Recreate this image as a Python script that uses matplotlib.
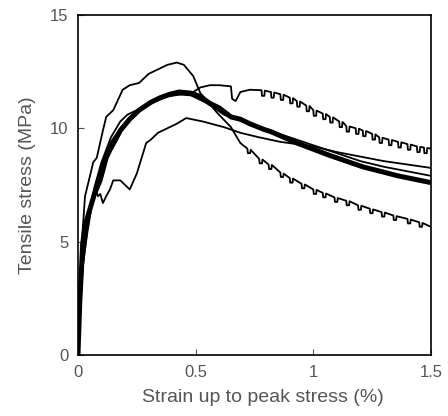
import matplotlib
matplotlib.use("Agg")
import matplotlib.pyplot as plt

plt.rcParams['font.family'] = ['Liberation Sans', 'DejaVu Sans']

# mean curve (thick)
mean_x = [0, 0.004, 0.008, 0.015, 0.02, 0.03, 0.05, 0.07, 0.094, 0.12, 0.136, 0.165, 0.18, 0.22, 0.26,
          0.31, 0.35, 0.39, 0.43, 0.48, 0.52, 0.56, 0.60, 0.65, 0.69, 0.73, 0.79, 0.82, 0.93, 1.07, 1.21, 1.36, 1.5]
mean_y = [0, 1.2, 2.4, 3.8, 4.9, 5.7, 6.4, 7.1, 7.7, 8.7, 9.05, 9.6, 9.9, 10.4, 10.8,
          11.15, 11.35, 11.5, 11.6, 11.55, 11.4, 11.1, 10.9, 10.5, 10.4, 10.2, 9.95, 9.85, 9.35, 8.8, 8.3, 7.9, 7.6]

# specimen with highest peak
s1_x = [0, 0.005, 0.012, 0.02, 0.03, 0.05, 0.065, 0.08, 0.106, 0.12, 0.15, 0.19, 0.22, 0.26, 0.30, 0.34,
        0.38, 0.42, 0.45, 0.49, 0.52, 0.55, 0.59, 0.65, 0.69,
        0.72, 0.722, 0.732, 0.734, 0.77, 0.772, 0.782, 0.784, 0.81, 0.812, 0.822, 0.824,
        0.86, 0.862, 0.872, 0.874, 0.90, 0.902, 0.912, 0.914, 0.95, 0.952, 0.962, 0.964,
        1.00, 1.002, 1.012, 1.014, 1.04, 1.042, 1.052, 1.054, 1.09, 1.092, 1.102, 1.104,
        1.14, 1.142, 1.152, 1.154, 1.19, 1.192, 1.202, 1.204, 1.24, 1.242, 1.252, 1.254,
        1.29, 1.292, 1.302, 1.304, 1.34, 1.342, 1.352, 1.354, 1.40, 1.402, 1.412, 1.414,
        1.45, 1.452, 1.462, 1.464, 1.5]
s1_y = [0, 1.5, 3.5, 5.5, 7.0, 7.85, 8.5, 8.7, 9.9, 10.5, 10.8, 11.7, 11.9, 12.0, 12.4, 12.6,
        12.8, 12.9, 12.8, 12.3, 11.55, 11.2, 10.7, 10.05, 9.35,
        9.1, 8.9, 8.9, 9.05, 8.65, 8.45, 8.45, 8.62, 8.4, 8.2, 8.2, 8.38,
        8.05, 7.85, 7.85, 8.0, 7.8, 7.6, 7.6, 7.78, 7.55, 7.35, 7.35, 7.52,
        7.3, 7.1, 7.1, 7.28, 7.15, 6.95, 6.95, 7.12, 6.95, 6.75, 6.75, 6.92,
        6.8, 6.6, 6.6, 6.78, 6.6, 6.4, 6.4, 6.58, 6.45, 6.25, 6.25, 6.42,
        6.3, 6.1, 6.1, 6.28, 6.15, 5.95, 5.95, 6.12, 6.0, 5.8, 5.8, 5.97,
        5.85, 5.65, 5.65, 5.82, 5.65]

# specimen with long plateau
s2_x = [0, 0.01, 0.02, 0.04, 0.07, 0.1, 0.14, 0.18, 0.22, 0.28, 0.33, 0.38, 0.44, 0.49, 0.52, 0.56, 0.60,
        0.65, 0.655, 0.67, 0.69, 0.73,
        0.78, 0.782, 0.792, 0.794, 0.82, 0.822, 0.832, 0.834, 0.86, 0.862, 0.872, 0.874,
        0.90, 0.902, 0.912, 0.914, 0.93, 0.932, 0.942, 0.944, 0.97, 0.972, 0.982, 0.984,
        1.00, 1.002, 1.012, 1.014, 1.04, 1.042, 1.052, 1.054, 1.07, 1.072, 1.082, 1.084,
        1.11, 1.112, 1.122, 1.124, 1.14, 1.142, 1.152, 1.154, 1.18, 1.182, 1.192, 1.194,
        1.21, 1.212, 1.222, 1.224, 1.25, 1.252, 1.262, 1.264, 1.28, 1.282, 1.292, 1.294,
        1.32, 1.322, 1.332, 1.334, 1.36, 1.362, 1.372, 1.374, 1.40, 1.402, 1.412, 1.414,
        1.44, 1.442, 1.452, 1.454, 1.47, 1.472, 1.482, 1.484, 1.5]
s2_y = [0, 2.0, 3.9, 5.4, 7.3, 8.4, 9.4, 10.0, 10.5, 10.9, 11.2, 11.4, 11.5, 11.6, 11.8, 11.9, 11.9,
        11.85, 11.3, 11.2, 11.6, 11.7,
        11.68, 11.43, 11.43, 11.66, 11.6, 11.35, 11.35, 11.58, 11.5, 11.25, 11.25, 11.48,
        11.35, 11.1, 11.1, 11.33, 11.2, 10.95, 10.95, 11.18, 11.0, 10.75, 10.75, 10.98,
        10.8, 10.55, 10.55, 10.78, 10.65, 10.4, 10.4, 10.63, 10.5, 10.25, 10.25, 10.48,
        10.3, 10.05, 10.05, 10.28, 10.1, 9.85, 9.85, 10.08, 10.0, 9.75, 9.75, 9.98,
        9.9, 9.65, 9.65, 9.88, 9.75, 9.5, 9.5, 9.73, 9.6, 9.35, 9.35, 9.58,
        9.5, 9.25, 9.25, 9.48, 9.4, 9.15, 9.15, 9.38, 9.3, 9.05, 9.05, 9.28,
        9.2, 8.95, 8.95, 9.18, 9.15, 8.9, 8.9, 9.13, 9.1]

# specimen with lowest peak
s3_x = [0, 0.01, 0.02, 0.04, 0.06, 0.075, 0.085, 0.095, 0.106, 0.12, 0.136, 0.15, 0.18, 0.2, 0.22, 0.25,
        0.29, 0.31, 0.34, 0.39, 0.42, 0.46, 0.53, 0.62, 0.69, 0.77, 0.86, 1.0, 1.1, 1.2, 1.3, 1.4, 1.5]
s3_y = [0, 2.0, 3.8, 5.6, 6.8, 7.3, 7.0, 7.1, 6.7, 7.0, 7.3, 7.7, 7.7, 7.5, 7.3, 8.0,
        9.35, 9.5, 9.8, 10.05, 10.2, 10.45, 10.3, 10.05, 9.8, 9.6, 9.4, 9.2, 8.95, 8.75, 8.55, 8.4, 8.25]

# specimen close to mean
s4_x = [0, 0.01, 0.02, 0.04, 0.07, 0.1, 0.14, 0.18, 0.21, 0.25, 0.3, 0.36, 0.42, 0.48, 0.55, 0.62,
        0.7, 0.8, 0.9, 1.0, 1.1, 1.2, 1.3, 1.4, 1.5]
s4_y = [0, 2.2, 4.2, 5.9, 7.4, 8.5, 9.6, 10.3, 10.6, 10.8, 11.1, 11.4, 11.5, 11.45, 11.1, 10.6,
        10.3, 9.95, 9.6, 9.25, 8.9, 8.55, 8.3, 8.1, 7.9]

gray = '#555555'

fig = plt.figure(figsize=(4.48, 4.16), dpi=100)
ax = fig.add_axes([0.174, 0.147, 0.788, 0.817])

for xs, ys in [(s1_x, s1_y), (s2_x, s2_y), (s3_x, s3_y), (s4_x, s4_y)]:
    ax.plot(xs, ys, color='black', lw=1.3)
ax.plot(mean_x, mean_y, color='black', lw=3.6)

ax.set_xlim(0, 1.5)
ax.set_ylim(0, 15)
ax.set_xticks([0, 0.5, 1, 1.5])
ax.set_xticklabels(['0', '0.5', '1', '1.5'])
ax.set_yticks([0, 5, 10, 15])
ax.tick_params(direction='in', length=4, width=0.8, color=gray, labelcolor=gray, labelsize=12, pad=7)
for sp in ax.spines.values():
    sp.set_color('black')
    sp.set_linewidth(1.2)

ax.set_xlabel('Strain up to peak stress (%)', color=gray, fontsize=14)
ax.xaxis.set_label_coords(0.524, -0.1)
ax.set_ylabel('Tensile stress (MPa)', color=gray, fontsize=14, labelpad=10)

fig.savefig('out.png', dpi=100)
